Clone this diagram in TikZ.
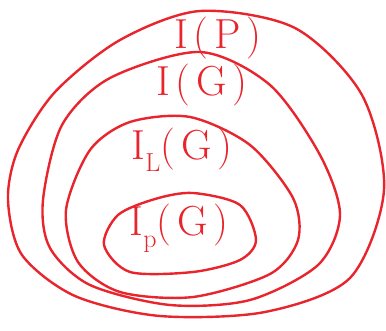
\documentclass[tikz,border=0pt]{standalone}
\usepackage{fontspec}
\newfontfamily\hand[LetterSpace=14]{Latin Modern Roman}
\usepackage{tikz}
\usetikzlibrary{positioning}
\usepackage{xcolor}
\definecolor{penred}{RGB}{232,36,44}
\newcommand{\sub}[1]{\raisebox{-0.28em}{\fontsize{26}{26}\selectfont #1}}
\newcommand{\IofP}{I(P)}
\newcommand{\IofG}{I(G)}
\newcommand{\ILG}{I\sub{L}(G)}
\newcommand{\IPG}{I\sub{p}(G)}

\begin{document}
\begin{tikzpicture}[x=1pt, y=-1pt,
    loop/.style={draw=penred, line width=2.4pt},
    lbl/.style={text=penred, font=\hand\fontsize{42}{42}\selectfont, inner sep=0pt}]
    \useasboundingbox (0,0) rectangle (386,331);
    % nested sets
    \draw[loop] plot[smooth cycle] coordinates {(200,11) (295,28) (362,95) (384,190) (350,278) (265,312) (160,316) (75,296) (22,255) (8,200) (18,150) (55,92) (120,40)};
    \draw[loop] plot[smooth cycle] coordinates {(200,52) (270,85) (320,155) (340,215) (318,265) (250,300) (170,305) (90,285) (50,248) (43,200) (62,125) (110,78)};
    \draw[loop] plot[smooth cycle] coordinates {(190,117) (250,145) (293,198) (298,240) (270,274) (193,297) (120,292) (78,262) (66,210) (90,150) (130,122)};
    \draw[loop] plot[smooth cycle] coordinates {(193,193) (240,205) (256,240) (240,260) (193,272) (130,272) (104,245) (118,215) (155,199)};
    % labels
    \node[lbl] (P) at (218,38) {\IofP};
    \node[lbl] (G) at (202,85) {\IofG};
    \node[lbl] (L) at (182,150) {\ILG};
    \node[lbl] (Pg) at (179,228) {\IPG};
\end{tikzpicture}
\end{document}
